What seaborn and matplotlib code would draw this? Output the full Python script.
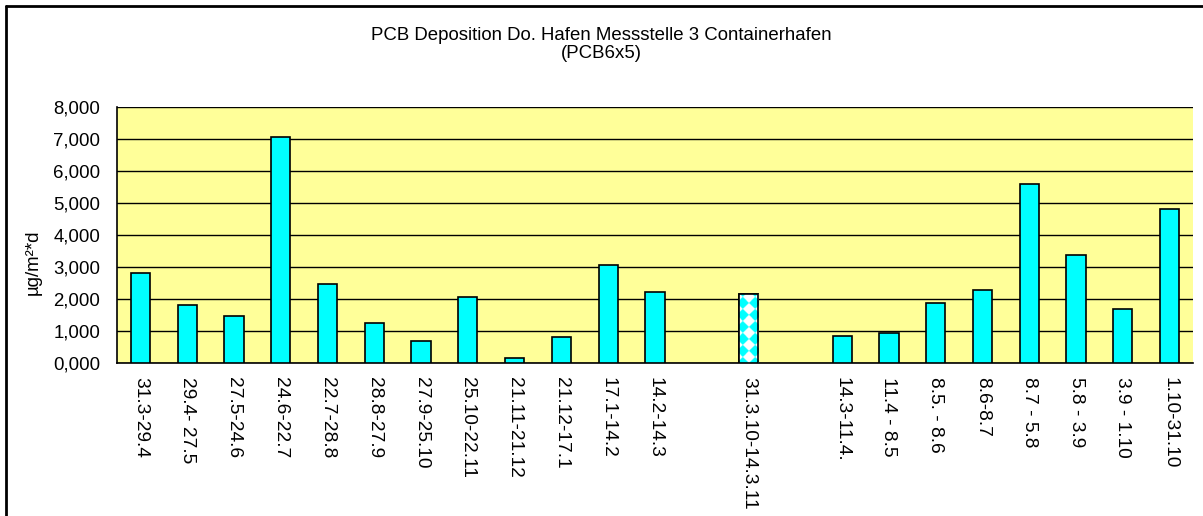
import numpy as np
import pandas as pd
import matplotlib
matplotlib.use("Agg")
import matplotlib.pyplot as plt
import seaborn as sns
from matplotlib.ticker import FuncFormatter, FixedLocator
from matplotlib.patches import Rectangle
from matplotlib.lines import Line2D

# ---- data ----
categories = ["31.3-29.4", "29.4- 27.5", "27.5-24.6", "24.6-22.7", "22.7-28.8",
              "28.8-27.9", "27.9-25.10", "25.10-22.11", "21.11-21.12", "21.12-17.1",
              "17.1-14.2", "14.2-14.3", " ", "31.3.10-14.3.11", "  ",
              "14.3-11.4.", "11.4 - 8.5", "8.5. - 8.6", "8.6-8.7", "8.7 - 5.8",
              "5.8 - 3.9", "3.9 - 1.10", "1.10-31.10"]
values = [2.81, 1.80, 1.47, 7.07, 2.45,
          1.23, 0.68, 2.04, 0.14, 0.81,
          3.06, 2.21, np.nan, 2.15, np.nan,
          0.84, 0.92, 1.87, 2.26, 5.59,
          3.38, 1.67, 4.81]
special_category = "31.3.10-14.3.11"
title_lines = ["PCB Deposition Do. Hafen Messstelle 3 Containerhafen", "(PCB6x5)"]
y_label = "µg/m²*d"
y_ticks = [0, 1, 2, 3, 4, 5, 6, 7, 8]

df = pd.DataFrame({"period": categories, "value": values}).dropna()

sns.set_style("white")
plt.rcParams["font.family"] = ["Liberation Sans", "DejaVu Sans"]
plt.rcParams["text.color"] = "black"
plt.rcParams["axes.labelcolor"] = "black"
plt.rcParams["xtick.color"] = "black"
plt.rcParams["ytick.color"] = "black"

CYAN = "#00FFFF"
FS = 13.4

fig = plt.figure(figsize=(12.03, 5.16), dpi=100)
ax = fig.add_axes([117 / 1203, 1 - 362.7 / 516, (1193 - 117) / 1203, (362.7 - 107) / 516])
ax.set_facecolor("#FFFF99")

sns.barplot(data=df, x="period", y="value", order=categories, ax=ax,
            color=CYAN, width=0.41, edgecolor="black", linewidth=1.2,
            saturation=1, zorder=3)

ax.set_ylim(0, 8)
ax.set_xlim(-0.5, len(categories) - 0.5)

# patterned bar (diamond checker texture, white / cyan)
idx = categories.index(special_category)
px_per_x = ax.transData.transform((1, 0))[0] - ax.transData.transform((0, 0))[0]
px_per_y = ax.transData.transform((0, 1))[1] - ax.transData.transform((0, 0))[1]
for p in list(ax.patches):
    cx = p.get_x() + p.get_width() / 2
    if abs(cx - idx) < 0.3:
        x0, w, h = p.get_x(), p.get_width(), p.get_height()
        p.set_facecolor("white")
        wpx, hpx = w * px_per_x, h * px_per_y
        xs = np.linspace(0, wpx, int(wpx * 4))
        ys = np.linspace(0, hpx, int(hpx * 4))
        X, Y = np.meshgrid(xs - wpx / 2, ys)
        s = 12.0
        par = (np.floor((X + Y) / s) + np.floor((X - Y) / s)) % 2
        img = np.ones(par.shape + (3,))
        img[par == 0] = [0.0, 1.0, 1.0]
        im = ax.imshow(img, extent=[x0, x0 + w, 0, h], origin="lower", aspect="auto",
                       interpolation="bilinear", zorder=3.5)
        im.set_clip_path(p)
        ax.add_patch(Rectangle((x0, 0), w, h, fill=False, edgecolor="black",
                               linewidth=1.2, zorder=4))

ax.set_ylim(0, 8)
ax.set_xlim(-0.5, len(categories) - 0.5)
ax.set_aspect("auto")
ax.yaxis.set_major_locator(FixedLocator(y_ticks))
ax.yaxis.set_major_formatter(FuncFormatter(lambda v, _: f"{v:.3f}".replace(".", ",")))
ax.grid(axis="y", color="black", linewidth=1.0, zorder=1)
ax.set_axisbelow(True)

# x tick labels at bar centres, tick marks at category boundaries
ax.set_xticks(range(len(categories)))
ax.set_xticklabels([c.strip() for c in categories], rotation=-90, va="top", ha="center",
                   fontsize=13.8)
ax.tick_params(axis="x", which="major", length=0, pad=10)
ax.set_xticks(np.arange(-0.5, len(categories), 1.0), minor=True)
ax.tick_params(axis="x", which="minor", length=6, width=1, color="black", direction="out")
ax.tick_params(axis="y", length=6, width=1, color="black", direction="out",
               labelsize=FS, pad=6)

for s_ in ["top", "right"]:
    ax.spines[s_].set_visible(False)
for s_ in ["left", "bottom"]:
    ax.spines[s_].set_color("black")
    ax.spines[s_].set_linewidth(1.2)

ax.set_xlabel("")
ax.set_ylabel(y_label, fontsize=FS)
ax.yaxis.set_label_coords((42 - 117) / 1076, (362.7 - 262) / 255.7)

fig.text(0.5, 1 - 36 / 516, title_lines[0], ha="center", va="center", fontsize=FS)
fig.text(0.5, 1 - 54 / 516, title_lines[1], ha="center", va="center", fontsize=FS)

# outer chart frame (top and left visible)
fig.add_artist(Line2D([6 / 1203, 1.0], [1 - 6 / 516, 1 - 6 / 516], color="black",
                      linewidth=2, transform=fig.transFigure))
fig.add_artist(Line2D([6 / 1203, 6 / 1203], [0.0, 1 - 6 / 516], color="black",
                      linewidth=2, transform=fig.transFigure))

fig.savefig("out.png", dpi=100)
